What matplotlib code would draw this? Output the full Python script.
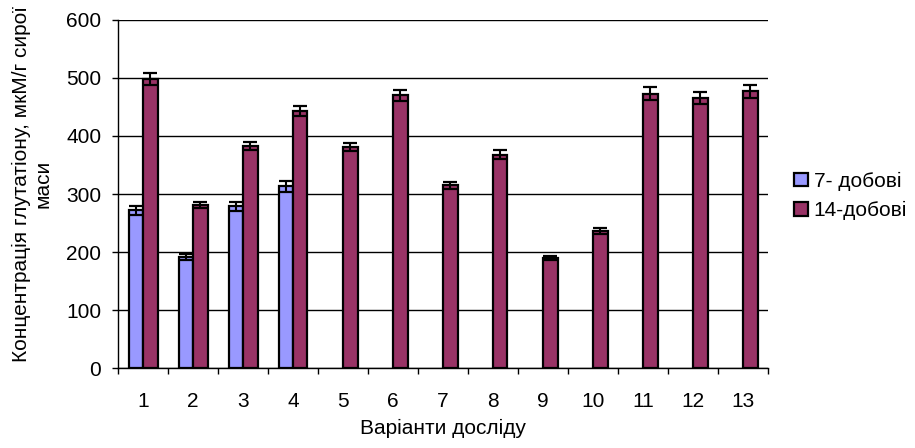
import matplotlib.pyplot as plt
import numpy as np
from matplotlib.ticker import FixedLocator

plt.rcParams["font.family"] = ["Liberation Sans", "DejaVu Sans"]

# Дані: концентрація глутатіону по варіантах досліду
variants = [str(i) for i in range(1, 14)]
day7 = [272, 192, 279, 313, np.nan, np.nan, np.nan, np.nan, np.nan, np.nan, np.nan, np.nan, np.nan]
day7_err = [8, 5, 8, 10, 0, 0, 0, 0, 0, 0, 0, 0, 0]
day14 = [498, 281, 382, 443, 381, 470, 315, 368, 190, 236, 473, 465, 477]
day14_err = [10, 6, 7, 9, 7, 10, 6, 7, 3, 5, 11, 10, 11]

labels = ["7- добові", "14-добові"]
colors = ["#9999FF", "#993366"]

fig = plt.figure(figsize=(9.15, 4.48), dpi=100)
ax = fig.add_axes([118 / 915, 80 / 448, 650 / 915, 348 / 448])

x = np.arange(1, len(variants) + 1)
w = 0.29
err_kw = {"ecolor": "black", "elinewidth": 1.5, "capsize": 5, "capthick": 1.6}

ax.bar(x - w / 2, day7, w, yerr=day7_err, color=colors[0], edgecolor="black",
       linewidth=1.6, label=labels[0], error_kw=err_kw, zorder=3)
ax.bar(x + w / 2, day14, w, yerr=day14_err, color=colors[1], edgecolor="black",
       linewidth=1.6, label=labels[1], error_kw=err_kw, zorder=3)

ax.set_xlim(0.5, len(variants) + 0.5)
ax.set_ylim(0, 600)
ax.set_yticks(range(0, 601, 100))
ax.set_xticks(x)
ax.set_xticklabels(variants)
ax.xaxis.set_minor_locator(FixedLocator(np.arange(0.5, len(variants) + 1, 1)))

ax.tick_params(axis="x", which="major", length=0, pad=17, labelsize=15)
ax.tick_params(axis="x", which="minor", length=4.5, width=1, direction="out")
ax.tick_params(axis="y", length=4, width=1, pad=8, labelsize=15)

ax.grid(True, axis="y", color="black", linewidth=1, zorder=0)
ax.set_axisbelow(True)
for side in ["top", "right"]:
    ax.spines[side].set_visible(False)
ax.spines["left"].set_linewidth(1)
ax.spines["bottom"].set_linewidth(1)

ax.set_xlabel("Варіанти досліду", fontsize=15, labelpad=6)
fig.text(32 / 915, 1 - 184 / 448, "Концентрація глутатіону, мкМ/г сирої\nмаси",
         rotation=90, ha="center", va="center", multialignment="center", fontsize=15)

ax.legend(loc="center left", bbox_to_anchor=(794 / 915, 1 - 196 / 448),
          bbox_transform=fig.transFigure, frameon=False, fontsize=15,
          handlelength=0.65, handleheight=0.65, handletextpad=0.3,
          labelspacing=0.5, borderpad=0, borderaxespad=0)

fig.savefig("out.png", dpi=100)
